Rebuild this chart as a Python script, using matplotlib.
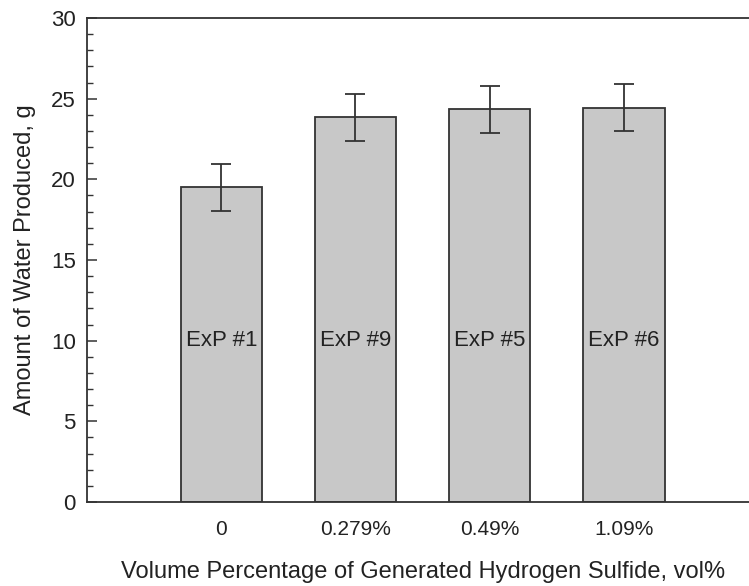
import numpy as np
import matplotlib
matplotlib.use('Agg')
import matplotlib.pyplot as plt
from matplotlib.ticker import MultipleLocator

# ============================================================
# data
# ============================================================
h2s_labels = ['0', '0.279%', '0.49%', '1.09%']
exp_names = ['ExP #1', 'ExP #9', 'ExP #5', 'ExP #6']
water_g = [19.5, 23.85, 24.35, 24.45]
water_err = [1.45, 1.45, 1.45, 1.45]

# ============================================================
# plot
# ============================================================
plt.rcParams['font.family'] = ['Liberation Sans', 'DejaVu Sans']
edge = '#333333'
txt = '#222222'

fig = plt.figure(figsize=(7.49, 5.86), dpi=100)
ax = fig.add_axes([0.1162, 0.1433, 0.896, 0.826])

x = np.arange(len(water_g))
ax.bar(x, water_g, width=0.606, color='#c8c8c8', edgecolor=edge, linewidth=1.3,
       yerr=water_err, capsize=7.5,
       error_kw=dict(ecolor=edge, elinewidth=1.3, capthick=1.3))

for xi, name in zip(x, exp_names):
    ax.text(xi, 10, name, ha='center', va='center', fontsize=16, color=txt)

ax.set_xlim(-1, 4)
ax.set_ylim(0, 30)
ax.set_xticks(x)
ax.set_xticklabels(h2s_labels)
ax.yaxis.set_major_locator(MultipleLocator(5))
ax.yaxis.set_minor_locator(MultipleLocator(1))
ax.tick_params(axis='y', which='major', direction='in', length=7, width=1.1,
               color=edge, labelsize=16, labelcolor=txt, pad=8)
ax.tick_params(axis='y', which='minor', direction='in', length=4, width=1.0, color=edge)
ax.tick_params(axis='x', length=0, pad=13, labelsize=15, labelcolor=txt)

for side in ['left', 'top', 'bottom']:
    ax.spines[side].set_color(edge)
    ax.spines[side].set_linewidth(1.3)
ax.spines['right'].set_visible(False)

ax.set_ylabel('Amount of Water Produced, g', fontsize=17, color=txt, labelpad=11)
ax.set_xlabel('Volume Percentage of Generated Hydrogen Sulfide, vol%', fontsize=17,
              color=txt, labelpad=16)

fig.savefig('out.png', dpi=100)
